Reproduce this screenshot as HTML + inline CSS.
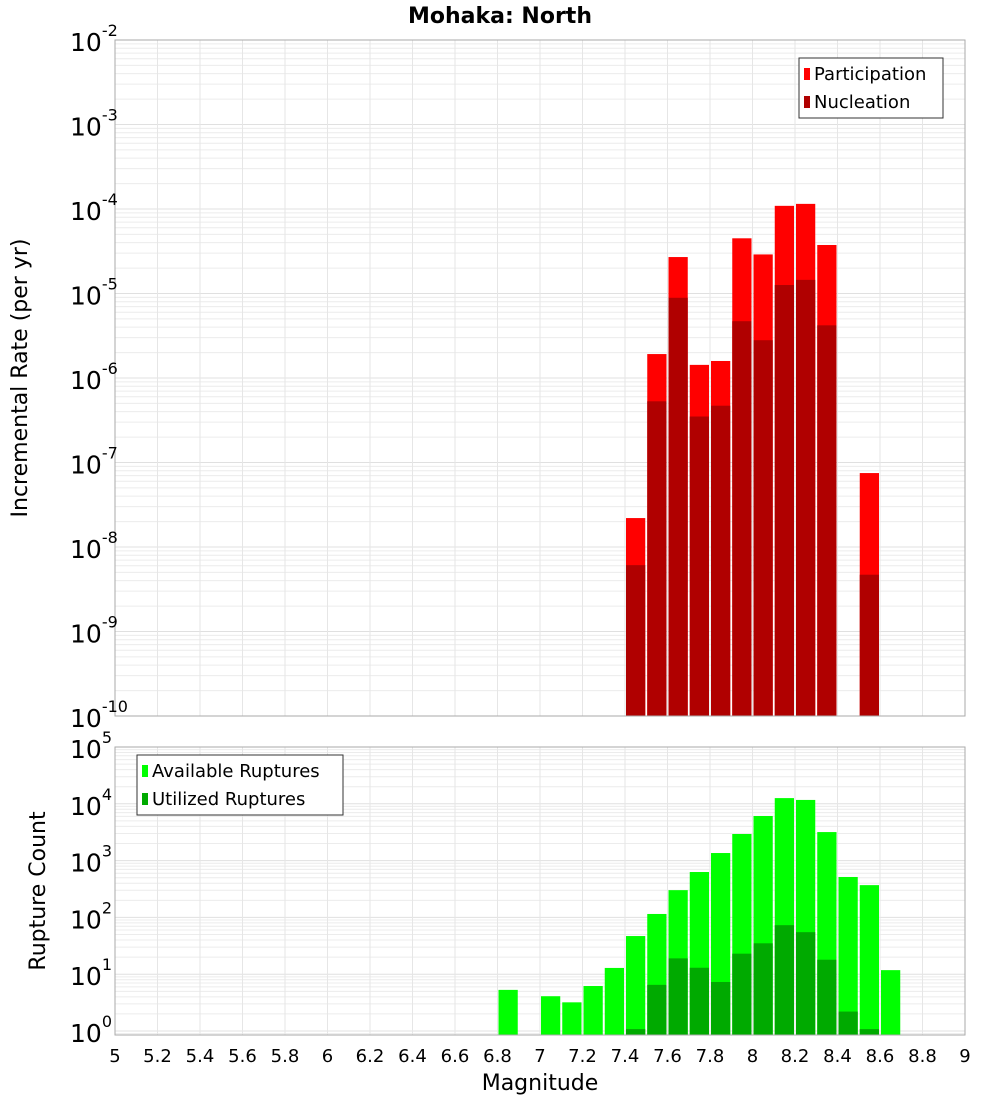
<!DOCTYPE html>
<html><head><meta charset="utf-8"><style>
body{margin:0;background:#fff;}
svg{display:block;font-family:"DejaVu Sans","Liberation Sans",sans-serif;}
</style></head><body>
<svg id="chart" width="1000" height="1100" viewBox="0 0 1000 1100">
<text x="500" y="23" text-anchor="middle" font-size="22" font-weight="bold">Mohaka: North</text>
<g id="top"></g><g id="bot"></g>
<text transform="translate(27,378) rotate(-90)" text-anchor="middle" font-size="22">Incremental Rate (per yr)</text>
<text transform="translate(45,891) rotate(-90)" text-anchor="middle" font-size="22">Rupture Count</text>
<text x="540" y="1090" text-anchor="middle" font-size="22">Magnitude</text>
</svg>
<script>
const mags = [7.45,7.55,7.65,7.75,7.85,7.95,8.05,8.15,8.25,8.35,8.55];
const participation = [2.2e-8,1.92e-6,2.7e-5,1.43e-6,1.59e-6,4.5e-5,2.9e-5,1.09e-4,1.15e-4,3.75e-5,7.5e-8];
const nucleation = [6.1e-9,5.3e-7,8.9e-6,3.5e-7,4.7e-7,4.7e-6,2.8e-6,1.26e-5,1.45e-5,4.2e-6,4.7e-9];
const availMags = [6.85,7.05,7.15,7.25,7.35,7.45,7.55,7.65,7.75,7.85,7.95,8.05,8.15,8.25,8.35,8.45,8.55,8.65];
const available = [5.3,4.1,3.2,6.2,12.9,47,115,302,630,1360,2940,6100,12600,11700,3180,515,370,11.8];
const utilMags = [7.45,7.55,7.65,7.75,7.85,7.95,8.05,8.15,8.25,8.35,8.45,8.55];
const utilized = [1.08,6.5,19,13,7.3,23,35,73,55,18,2.2,1.08];
const xTicks = [5,5.2,5.4,5.6,5.8,6,6.2,6.4,6.6,6.8,7,7.2,7.4,7.6,7.8,8,8.2,8.4,8.6,8.8,9];
const topExp = [-2,-3,-4,-5,-6,-7,-8,-9,-10];
const botExp = [5,4,3,2,1,0];

const NS="http://www.w3.org/2000/svg";
const X0=115,X1=965;
const x=m=>X0+(m-5)/4*(X1-X0);
function mk(p,tag,attrs,txt){const e=document.createElementNS(NS,tag);for(const k in attrs)e.setAttribute(k,attrs[k]);if(txt!==undefined)e.textContent=txt;p.appendChild(e);return e;}

function panel(g,top,bot,lmax,lmin,name){
  const y=v=>top+(lmax-Math.log10(v))/(lmax-lmin)*(bot-top);
  const grid=mk(g,'g',{});
  
  
  for(let e=Math.floor(lmin);e<lmax;e++){for(let k=1;k<10;k++){const v=k*Math.pow(10,e);const l=Math.log10(v);if(l<lmin||l>lmax)continue;const yy=y(v);mk(grid,'line',{x1:X0,x2:X1,y1:yy,y2:yy,stroke:k==1?'#e0e0e0':'#ececec','stroke-width':1});}}
  xTicks.forEach(t=>mk(grid,'line',{x1:x(t),x2:x(t),y1:top,y2:bot,stroke:'#e6e6e6','stroke-width':1}));
  return y;
}
function bars(g,ms,vals,y,bot,color,name){
  ms.forEach((m,i)=>{const yt=y(vals[i]);const r=mk(g,'rect',{x:x(m-0.05)+1,y:yt,width:x(m+0.05)-x(m-0.05)-2,height:bot-yt,fill:color});
  
  });
}
function yLabels(g,exps,y,name){
  exps.forEach(e=>{const yy=y(Math.pow(10,e));const t=mk(g,'text',{x:70,y:yy+11,'font-size':25});
  
  
  mk(t,'tspan',{},'10');mk(t,'tspan',{dy:-15,'font-size':16},String(e));});
}
function legend(g,lx,ly,w,items,name){
  const lg=mk(g,'g',{});
  
  
  mk(lg,'rect',{x:lx,y:ly,width:w,height:60,fill:'#fff',stroke:'#333','stroke-width':1});
  items.forEach((it,i)=>{const yy=ly+15+i*28;mk(lg,'rect',{x:lx+5,y:yy-5,width:6,height:12,fill:it[1]});
  const t=mk(lg,'text',{x:lx+15,y:yy+7,'font-size':18},it[0]);
  
  });
}
// top panel
const gt=document.getElementById('top');
const yT=panel(gt,40,716,-2,-10,'top');
bars(gt,mags,participation,yT,716,'#ff0000','participation');
bars(gt,mags,nucleation,yT,716,'#b00000','nucleation');
mk(gt,'rect',{x:X0,y:40,width:X1-X0,height:676,fill:'none',stroke:'#aaa','stroke-width':1});
yLabels(gt,topExp,yT,'top-y');
legend(gt,799,58,144,[['Participation','#ff0000'],['Nucleation','#b00000']],'top-legend');
// bottom panel
const gb=document.getElementById('bot');
const lminB=-0.07;
const yB=panel(gb,747,1035,5,lminB,'bottom');
bars(gb,availMags,available,yB,1035,'#00ff00','available');
bars(gb,utilMags,utilized,yB,1035,'#00aa00','utilized');
mk(gb,'rect',{x:X0,y:747,width:X1-X0,height:288,fill:'none',stroke:'#aaa','stroke-width':1});
yLabels(gb,botExp,yB,'bottom-y');
legend(gb,137,755,206,[['Available Ruptures','#00ff00'],['Utilized Ruptures','#00aa00']],'bottom-legend');
xTicks.forEach(t=>{const tx=mk(gb,'text',{x:x(t),y:1062,'text-anchor':'middle','font-size':18},String(t));

});
</script>
</body></html>
